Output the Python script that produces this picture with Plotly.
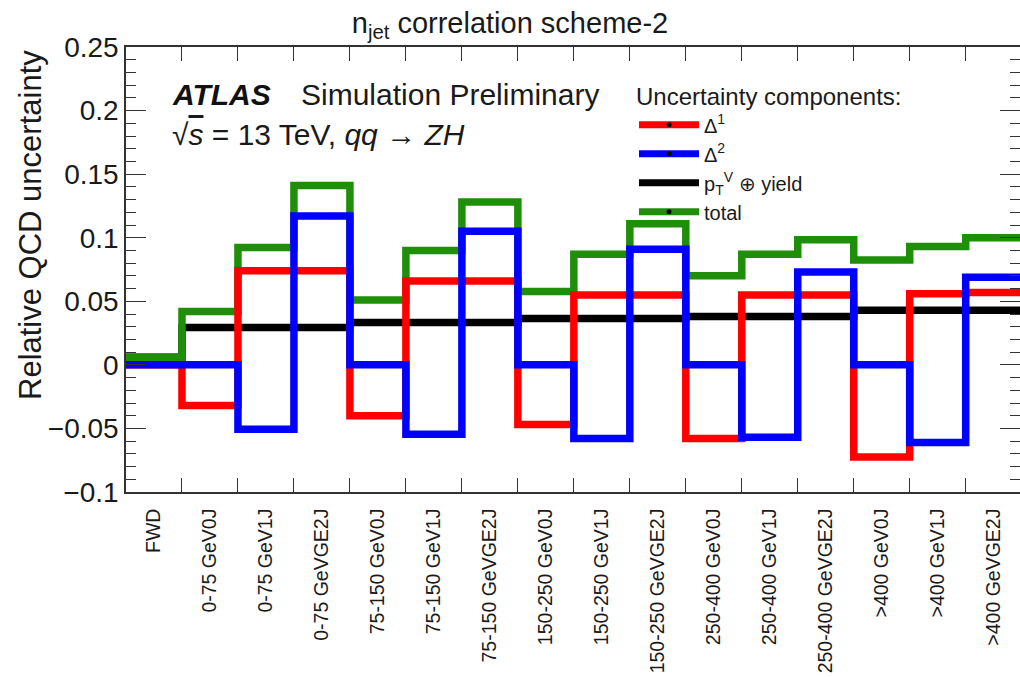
import plotly.graph_objects as go

# ---------------- data ----------------
categories = ["FWD",
              "0-75 GeV0J", "0-75 GeV1J", "0-75 GeVGE2J",
              "75-150 GeV0J", "75-150 GeV1J", "75-150 GeVGE2J",
              "150-250 GeV0J", "150-250 GeV1J", "150-250 GeVGE2J",
              "250-400 GeV0J", "250-400 GeV1J", "250-400 GeVGE2J",
              ">400 GeV0J", ">400 GeV1J", ">400 GeVGE2J"]

delta1 = [0.0, -0.032, 0.074, 0.074, -0.040, 0.066, 0.066, -0.047, 0.055, 0.055,
          -0.058, 0.055, 0.055, -0.0725, 0.056, 0.057]
delta2 = [0.0, 0.0, -0.0507, 0.117, 0.0, -0.0546, 0.105, 0.0, -0.058, 0.091,
          0.0, -0.057, 0.073, 0.0, -0.061, 0.069]
ptv_yield = [0.006, 0.0294, 0.0294, 0.0294, 0.0333, 0.0333, 0.0333, 0.0365, 0.0365, 0.0365,
             0.038, 0.038, 0.038, 0.043, 0.043, 0.043]
total = [0.006, 0.042, 0.0924, 0.141, 0.051, 0.090, 0.128, 0.0577, 0.087, 0.111,
         0.070, 0.087, 0.0984, 0.0824, 0.093, 0.100]

y_tickvals = [-0.1, -0.05, 0, 0.05, 0.1, 0.15, 0.2, 0.25]
y_ticktext = ["\u22120.1", "\u22120.05", "0", "0.05", "0.1", "0.15", "0.2", "0.25"]

series_names = ["\u0394<sup>1</sup>", "\u0394<sup>2</sup>",
                "p<sub>T</sub><sup>V</sup> \u2295 yield", "total"]

# ---------------- style ----------------
FONT = "Liberation Sans, Arial, Helvetica, sans-serif"
RED, BLUE, BLACK, GREEN = "#ff0000", "#0000ff", "#000000", "#1f8f0a"
LW = 7.5
W, H = 1020, 677
ML, MR, MT, MB = 126, 0, 47, 185

nb = len(categories)
edges = list(range(nb + 1))
centers = [i + 0.5 for i in range(nb)]


def step_y(vals):
    return list(vals) + [vals[-1]]


fig = go.Figure()
# drawing order: black, green, red, blue
for vals, col in [(ptv_yield, BLACK), (total, GREEN), (delta1, RED), (delta2, BLUE)]:
    fig.add_trace(go.Scatter(x=edges, y=step_y(vals), mode="lines",
                             line=dict(color=col, width=LW, shape="hv"),
                             showlegend=False, hoverinfo="skip"))

# legend entries
for name, col, dot in zip(series_names, [RED, BLUE, BLACK, GREEN], [True, True, False, True]):
    fig.add_trace(go.Scatter(x=[None], y=[None], name=name,
                             mode="lines+markers" if dot else "lines",
                             line=dict(color=col, width=7),
                             marker=dict(color="black", size=5),
                             showlegend=True))


def px_x(x):
    return (x - ML) / (W - ML - MR)


def px_y(y):
    return (H - MB - y) / (H - MT - MB)


axis_col = "#333333"
fig.update_layout(
    width=W, height=H,
    margin=dict(l=ML, r=MR, t=MT, b=MB, autoexpand=False),
    paper_bgcolor="white", plot_bgcolor="white",
    font=dict(family=FONT, color="#1a1a1a"),
    title=dict(text="n<sub>jet</sub> correlation scheme-2", x=0.5, xref="container",
               xanchor="center", y=1 - 23 / H, yref="container", yanchor="middle",
               font=dict(size=29, family=FONT, color="#1a1a1a")),
    xaxis=dict(range=[0, 15.97], tickmode="array", tickvals=centers, ticktext=categories,
               tickangle=-90, ticks="inside", ticklen=0, tickfont=dict(size=19.5),
               ticklabelstandoff=7, automargin=False,
               showline=True, linecolor=axis_col, linewidth=1.5, mirror="ticks",
               showgrid=False, zeroline=False,
               minor=dict(tickmode="array", tickvals=edges, ticks="inside", ticklen=14,
                          tickcolor=axis_col, tickwidth=1.2, showgrid=False)),
    yaxis=dict(range=[-0.1, 0.25], tickmode="array", tickvals=y_tickvals, ticktext=y_ticktext,
               ticks="inside", ticklen=20, tickcolor=axis_col, tickwidth=1.2,
               tickfont=dict(size=28), automargin=False,
               showline=True, linecolor=axis_col, linewidth=1.5, mirror="ticks",
               showgrid=False, zeroline=False,
               minor=dict(dtick=0.01, ticks="inside", ticklen=10, tickcolor=axis_col,
                          tickwidth=1.2, showgrid=False)),
    legend=dict(x=px_x(634), y=px_y(74), xanchor="left", yanchor="top",
                bgcolor="rgba(0,0,0,0)", borderwidth=0, itemwidth=60,
                font=dict(size=20, family=FONT, color="#1a1a1a"),
                title=dict(text="Uncertainty components:", font=dict(size=24, family=FONT)),
                traceorder="normal"),
)

# y-axis title (right-aligned to top of axis, ROOT style)
fig.add_annotation(text="Relative QCD uncertainty", textangle=-90, showarrow=False,
                   xref="paper", yref="paper", x=px_x(30), y=px_y(48),
                   xanchor="center", yanchor="top",
                   font=dict(size=31, family=FONT, color="#1a1a1a"))

# ATLAS label
fig.add_annotation(text="<b><i>ATLAS</i></b>", showarrow=False, xref="paper", yref="paper",
                   x=px_x(170), y=px_y(94), xanchor="left", yanchor="middle",
                   font=dict(size=30, family=FONT, color="#111111"))
fig.add_annotation(text="Simulation Preliminary", showarrow=False, xref="paper", yref="paper",
                   x=px_x(299), y=px_y(94), xanchor="left", yanchor="middle",
                   font=dict(size=30, family=FONT, color="#1a1a1a"))
fig.add_annotation(text="\u221a<span style='text-decoration:overline'><i>s</i></span> = 13 TeV,\u00a0"
                        "<i>qq</i> \u2192 <i>ZH</i>",
                   showarrow=False, xref="paper", yref="paper",
                   x=px_x(170), y=px_y(134), xanchor="left", yanchor="middle",
                   font=dict(size=30, family=FONT, color="#1a1a1a"))

fig.write_html("out.html")
